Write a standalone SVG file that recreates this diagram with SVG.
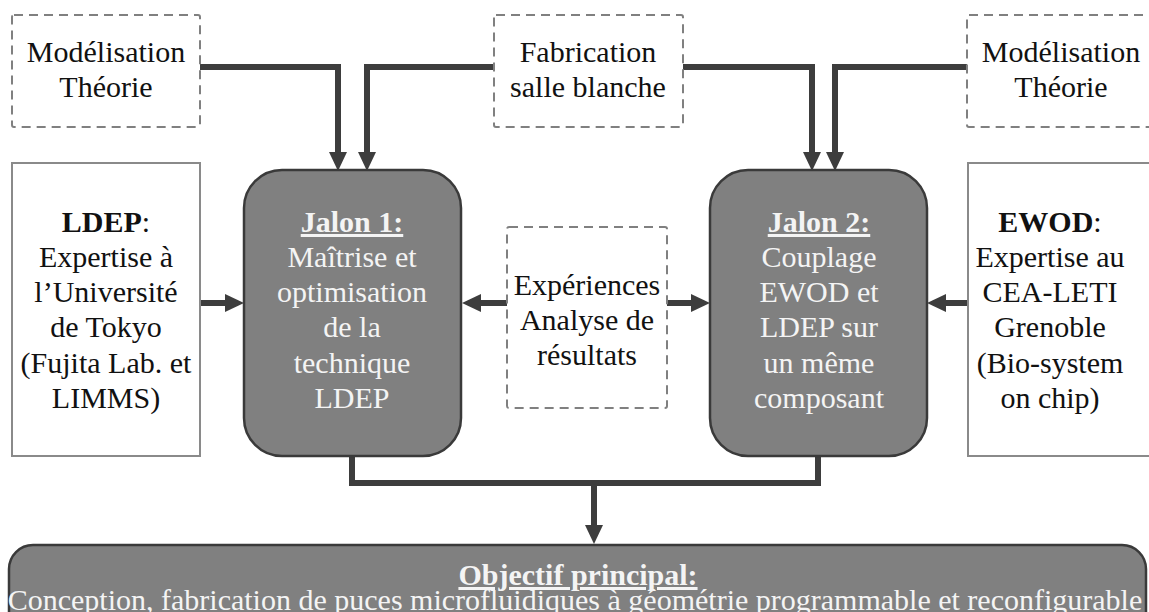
<svg xmlns="http://www.w3.org/2000/svg" width="1149" height="612" viewBox="0 0 1149 612" font-family="Liberation Serif, Times New Roman, serif">
<defs>
<marker id="ah" markerUnits="userSpaceOnUse" markerWidth="20" markerHeight="20" refX="0" refY="9" orient="auto">
<path d="M0,0 L19,9 L0,18 z" fill="#3d3d3d"/>
</marker>
</defs>
<g id="connectors" fill="none" stroke="#3d3d3d" stroke-width="6">
<path d="M200,67 H338 V152" marker-end="url(#ah)"/>
<path d="M494,67 H367 V152" marker-end="url(#ah)"/>
<path d="M683,67 H812 V152" marker-end="url(#ah)"/>
<path d="M967,67 H835 V152" marker-end="url(#ah)"/>
<path d="M200,303 H225" marker-end="url(#ah)"/>
<path d="M507,303 H481" marker-end="url(#ah)"/>
<path d="M667,303 H691" marker-end="url(#ah)"/>
<path d="M968,303 H946" marker-end="url(#ah)"/>
<path d="M352,457 V483 H818 V457"/>
<path d="M594,483 V525" marker-end="url(#ah)"/>
</g>
<g id="modelisation-left" text-anchor="middle" fill="#111">
<rect x="12" y="15" width="188" height="112" rx="2" fill="#fff" stroke="#808080" stroke-width="2" stroke-dasharray="9 6"/>
<text font-family="Liberation Serif" font-size="30" x="106" y="62">Modélisation</text>
<text font-family="Liberation Serif" font-size="30" x="106" y="97">Théorie</text>
</g>
<g id="fabrication" text-anchor="middle" fill="#111">
<rect x="494" y="15" width="189" height="112" rx="2" fill="#fff" stroke="#808080" stroke-width="2" stroke-dasharray="9 6"/>
<text font-family="Liberation Serif" font-size="30" x="588" y="62">Fabrication</text>
<text font-family="Liberation Serif" font-size="30" x="588" y="97">salle blanche</text>
</g>
<g id="modelisation-right" text-anchor="middle" fill="#111">
<rect x="967" y="15" width="190" height="112" rx="2" fill="#fff" stroke="#808080" stroke-width="2" stroke-dasharray="9 6"/>
<text font-family="Liberation Serif" font-size="30" x="1061" y="62">Modélisation</text>
<text font-family="Liberation Serif" font-size="30" x="1061" y="97">Théorie</text>
</g>
<g id="ldep" text-anchor="middle" fill="#111">
<rect x="12" y="163" width="188" height="293" fill="#fff" stroke="#8a8a8a" stroke-width="2"/>
<text font-family="Liberation Serif" font-size="30" x="106" y="232"><tspan font-weight="bold">LDEP</tspan>:</text>
<text font-family="Liberation Serif" font-size="30" x="106" y="267">Expertise à</text>
<text font-family="Liberation Serif" font-size="30" x="106" y="302">l’Université</text>
<text font-family="Liberation Serif" font-size="30" x="106" y="337">de Tokyo</text>
<text font-family="Liberation Serif" font-size="30" x="106" y="373">(Fujita Lab. et</text>
<text font-family="Liberation Serif" font-size="30" x="106" y="408">LIMMS)</text>
</g>
<g id="jalon1" text-anchor="middle" fill="#f4f4f4">
<rect x="244" y="170" width="217" height="286" rx="38" fill="#808080" stroke="#3a3a3a" stroke-width="2.5"/>
<text font-family="Liberation Serif" font-size="30" font-weight="bold" text-decoration="underline" x="352" y="232">Jalon 1:</text>
<text font-family="Liberation Serif" font-size="30" x="352" y="267">Maîtrise et</text>
<text font-family="Liberation Serif" font-size="30" x="352" y="302">optimisation</text>
<text font-family="Liberation Serif" font-size="30" x="352" y="337">de la</text>
<text font-family="Liberation Serif" font-size="30" x="352" y="373">technique</text>
<text font-family="Liberation Serif" font-size="30" x="352" y="408">LDEP</text>
</g>
<g id="experiences" text-anchor="middle" fill="#111">
<rect x="507" y="227" width="160" height="181" rx="2" fill="#fff" stroke="#808080" stroke-width="2" stroke-dasharray="9 6"/>
<text font-family="Liberation Serif" font-size="30" x="587" y="295">Expériences</text>
<text font-family="Liberation Serif" font-size="30" x="587" y="330">Analyse de</text>
<text font-family="Liberation Serif" font-size="30" x="587" y="365">résultats</text>
</g>
<g id="jalon2" text-anchor="middle" fill="#f4f4f4">
<rect x="710" y="170" width="217" height="286" rx="38" fill="#808080" stroke="#3a3a3a" stroke-width="2.5"/>
<text font-family="Liberation Serif" font-size="30" font-weight="bold" text-decoration="underline" x="819" y="232">Jalon 2:</text>
<text font-family="Liberation Serif" font-size="30" x="819" y="267">Couplage</text>
<text font-family="Liberation Serif" font-size="30" x="819" y="302">EWOD et</text>
<text font-family="Liberation Serif" font-size="30" x="819" y="337">LDEP sur</text>
<text font-family="Liberation Serif" font-size="30" x="819" y="373">un même</text>
<text font-family="Liberation Serif" font-size="30" x="819" y="408">composant</text>
</g>
<g id="ewod" text-anchor="middle" fill="#111">
<rect x="968" y="163" width="190" height="293" fill="#fff" stroke="#8a8a8a" stroke-width="2"/>
<text font-family="Liberation Serif" font-size="30" x="1050" y="232"><tspan font-weight="bold">EWOD</tspan>:</text>
<text font-family="Liberation Serif" font-size="30" x="1050" y="267">Expertise au</text>
<text font-family="Liberation Serif" font-size="30" x="1050" y="302">CEA-LETI</text>
<text font-family="Liberation Serif" font-size="30" x="1050" y="337">Grenoble</text>
<text font-family="Liberation Serif" font-size="30" x="1050" y="373">(Bio-system</text>
<text font-family="Liberation Serif" font-size="30" x="1050" y="408">on chip)</text>
</g>
<g id="objectif" text-anchor="middle" fill="#f4f4f4">
<rect x="9" y="545" width="1137" height="100" rx="24" fill="#808080" stroke="#3a3a3a" stroke-width="2.5"/>
<text font-family="Liberation Serif" font-size="30" font-weight="bold" text-decoration="underline" x="578" y="585">Objectif principal:</text>
<text font-family="Liberation Serif" font-size="30" x="575" y="610">Conception, fabrication de puces microfluidiques à géométrie programmable et reconfigurable</text>
</g>
</svg>
